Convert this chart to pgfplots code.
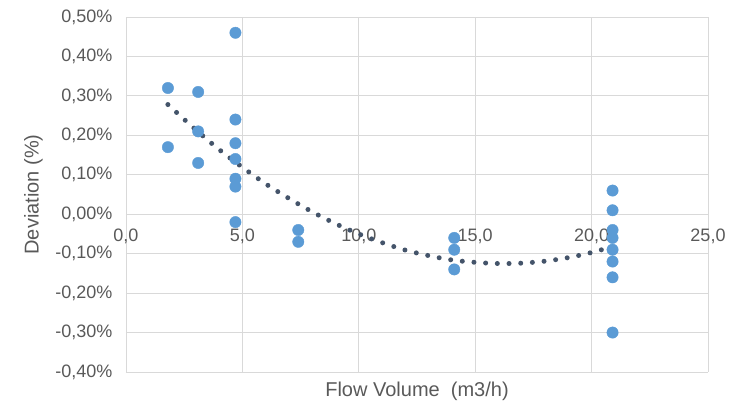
\documentclass[border=0pt]{standalone}
\usepackage{fontspec}
\setmainfont{Liberation Sans}
\usepackage{pgfplots}
\pgfplotsset{compat=1.18}
\definecolor{txt}{HTML}{595959}
\definecolor{gridc}{HTML}{D9D9D9}
\definecolor{ptblue}{HTML}{5B9BD5}
\definecolor{trend}{HTML}{44546A}
\begin{document}
\begin{tikzpicture}
\useasboundingbox (-126pt,-29pt) rectangle (609pt,372pt);
\begin{axis}[
  scale only axis, width=582pt, height=355pt,
  xmin=0, xmax=25, ymin=-0.4, ymax=0.5,
  axis x line=middle, axis y line=left,
  hide obscured x ticks=false,
  axis line style={gridc, line width=0.8pt, -},
  xtick={0,5,10,15,20,25},
  ytick={-0.4,-0.3,-0.2,-0.1,0,0.1,0.2,0.3,0.4,0.5},
  xticklabels={{0,0},{5,0},{10,0},{15,0},{20,0},{25,0}},
  yticklabels={{-0,40\%},{-0,30\%},{-0,20\%},{-0,10\%},{0,00\%},{0,10\%},{0,20\%},{0,30\%},{0,40\%},{0,50\%}},
  grid=major, major grid style={gridc, line width=0.8pt},
  major tick length=0pt,
  tick label style={font=\fontsize{18}{20}\selectfont, text=txt},
  xticklabel style={anchor=north, yshift=-11pt},
  yticklabel style={anchor=east, xshift=-10pt},
  every axis y label/.style={at={(axis description cs:-0.1426,0.5)}, rotate=90, anchor=south, inner sep=0pt},
  every axis x label/.style={at={(axis description cs:0.5,0)}, anchor=north, yshift=-9.5pt, inner sep=0pt},
  label style={font=\fontsize{20}{22}\selectfont, text=txt},
  xlabel={Flow Volume\ \ (m3/h)},
  ylabel={Deviation (\%)},
  clip=false,
]
\addplot[only marks, mark=*, mark size=5.7pt, mark options={draw=ptblue, fill=ptblue}]
  coordinates {
    (1.8,0.32) (1.8,0.17)
    (3.1,0.31) (3.1,0.21) (3.1,0.13)
    (4.7,0.46) (4.7,0.24) (4.7,0.18) (4.7,0.14) (4.7,0.09) (4.7,0.07) (4.7,-0.02)
    (7.4,-0.04) (7.4,-0.07)
    (14.1,-0.06) (14.1,-0.09) (14.1,-0.14)
    (20.9,0.06) (20.9,0.01) (20.9,-0.04) (20.9,-0.06) (20.9,-0.09) (20.9,-0.12) (20.9,-0.16) (20.9,-0.30)
  };
% polynomial trendline
\addplot[trend, line width=5pt, line cap=round, dash pattern=on 0pt off 11.7pt, smooth]
  coordinates {
    (1.8,0.278) (3,0.214) (4,0.164) (5,0.119) (6,0.077) (7,0.040) (8,0.006)
    (9,-0.024) (10,-0.050) (11,-0.072) (12,-0.091) (13,-0.105) (14,-0.116)
    (15,-0.122) (16,-0.125) (17,-0.124) (18,-0.119) (19,-0.110) (20,-0.097) (20.9,-0.082)
  };
\end{axis}
\end{tikzpicture}
\end{document}
